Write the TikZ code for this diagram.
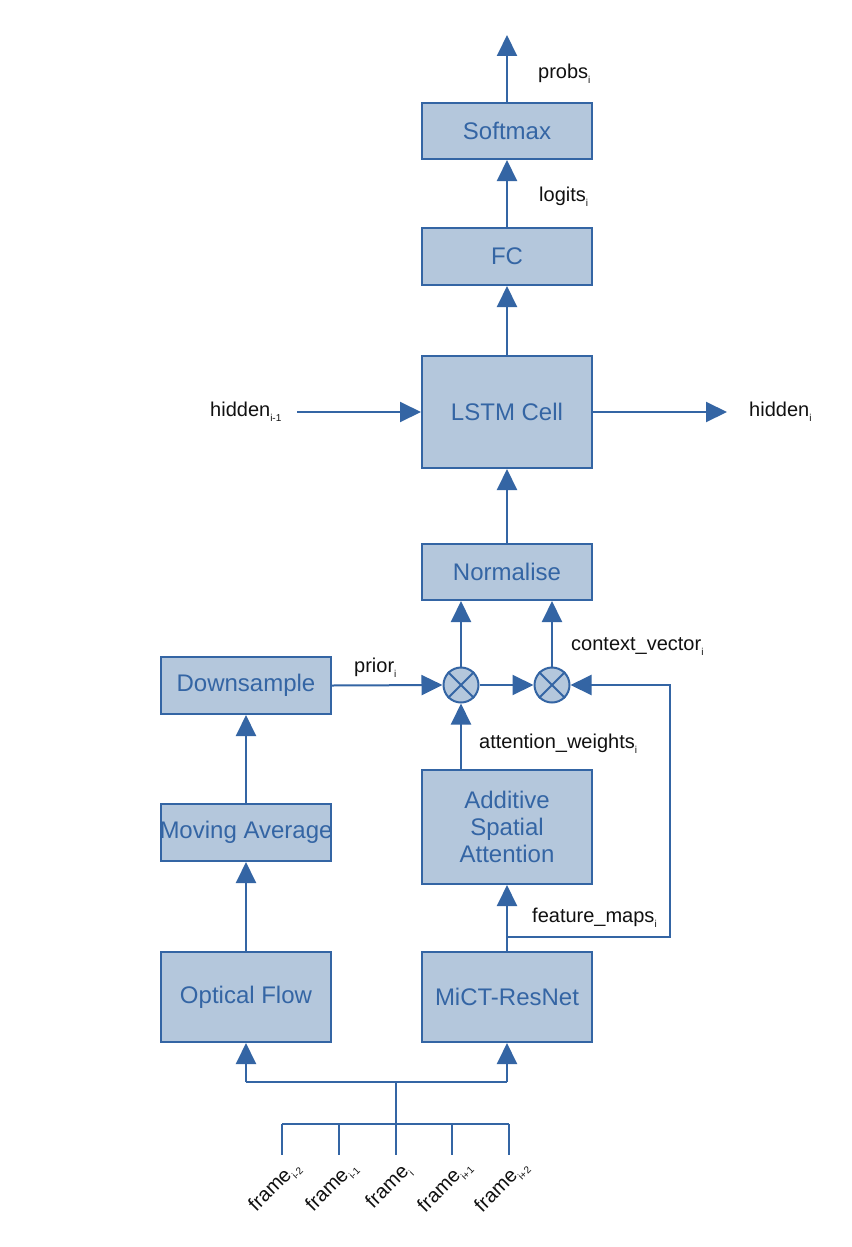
\documentclass[tikz,border=0pt]{standalone}
\usepackage{fontspec}
\setmainfont{Liberation Sans}
\usetikzlibrary{arrows.meta}
\definecolor{lineblue}{HTML}{3465A4}
\definecolor{fillblue}{HTML}{B4C7DC}
\definecolor{txt}{HTML}{111111}
\newcommand{\sbs}[1]{\raisebox{-5pt}{\fontsize{10}{10}\selectfont #1}}
\tikzset{
  blk/.style={draw=lineblue, fill=fillblue, line width=2pt, minimum width=170pt,
    inner sep=0pt, text=lineblue, font=\fontsize{24}{27}\selectfont, align=center},
  mul/.style={draw=lineblue, fill=fillblue, line width=2pt, circle, minimum size=35pt, inner sep=0pt},
  conn/.style={draw=lineblue, line width=2pt},
  arr/.style={conn, -{Triangle[length=21pt,width=20pt]}},
  lbl/.style={anchor=base west, inner sep=0pt, text=txt, font=\fontsize{20}{20}\selectfont},
  frm/.style={rotate=45, inner sep=0pt, text=txt, font=\fontsize{20}{20}\selectfont}
}
\begin{document}
\begin{tikzpicture}[x=1pt,y=-1pt]
\useasboundingbox[fill=white] (0,0) rectangle (851,1247);
% boxes
\node[blk, minimum height=56pt] (soft) at (507,131) {Softmax};
\node[blk, minimum height=57pt] (fc) at (507,256.5) {FC};
\node[blk, minimum height=112pt] (lstm) at (507,412) {LSTM Cell};
\node[blk, minimum height=56pt] (norm) at (507,572) {Normalise};
\node[blk, minimum height=57pt] (down) at (246,685.5) {Downsample};
\node[blk, minimum height=57pt, inner xsep=-1.6pt] (mavg) at (246,832.5) {Moving Average};
\node[blk, minimum height=90pt] (oflow) at (246,997) {Optical Flow};
\node[blk, minimum height=114pt] (asa) at (507,827) {Additive\\Spatial\\Attention};
\node[blk, minimum height=90pt] (mict) at (507,997) {MiCT-ResNet};
% multiply circles
\node[mul] (m1) at (461,685) {};
\node[mul] (m2) at (552,685) {};
\draw[conn] (m1.north west) -- (m1.south east) (m1.north east) -- (m1.south west);
\draw[conn] (m2.north west) -- (m2.south east) (m2.north east) -- (m2.south west);
% coordinates
\coordinate (top) at (507,35);
\coordinate (hin) at (297,412);
\coordinate (hout) at (727,412);
\coordinate (fmjoin) at (507,937);
\coordinate (fmcorner1) at (670,937);
\coordinate (fmcorner2) at (670,685);
\coordinate (bl) at (246,1082);
\coordinate (bm) at (396,1082);
\coordinate (br) at (507,1082);
\coordinate (tr) at (396,1124);
\coordinate (t1) at (282,1124);
\coordinate (t2) at (339,1124);
\coordinate (t4) at (452,1124);
\coordinate (t5) at (509,1124);
\coordinate (f1) at (282,1155);
\coordinate (f2) at (339,1155);
\coordinate (f3) at (396,1155);
\coordinate (f4) at (452,1155);
\coordinate (f5) at (509,1155);
% arrows
\draw[arr] (soft.north) -- (top);
\draw[arr] (fc.north) -- (soft.south);
\draw[arr] (lstm.north) -- (fc.south);
\draw[arr] (norm.north) -- (lstm.south);
\draw[arr] (hin) -- (lstm.west);
\draw[arr] (lstm.east) -- (hout);
\draw[arr] (m1.north) -- (m1.north |- norm.south);
\draw[arr] (m2.north) -- (m2.north |- norm.south);
\draw[arr] (down.east) -- (m1.west);
\draw[arr] (m1.east) -- (m2.west);
\draw[arr] (m1.south |- asa.north) -- (m1.south);
\draw[arr] (mict.north) -- (asa.south);
\draw[arr] (fmjoin) -- (fmcorner1) -- (fmcorner2) -- (m2.east);
\draw[arr] (mavg.north) -- (down.south);
\draw[arr] (oflow.north) -- (mavg.south);
\draw[arr] (bl) -- (oflow.south);
\draw[arr] (br) -- (mict.south);
\draw[conn] (bl) -- (br);
\draw[conn] (tr) -- (bm);
\draw[conn] (t1) -- (t5);
\draw[conn] (t1) -- (f1) (t2) -- (f2) (tr) -- (f3) (t4) -- (f4) (t5) -- (f5);
% labels
\node[lbl] (lprobs) at (538,78) {probs\sbs{i}};
\node[lbl] (llogits) at (539,201) {logits\sbs{i}};
\node[lbl] (lhin) at (210,416) {hidden\sbs{i-1}};
\node[lbl] (lhout) at (749,416) {hidden\sbs{i}};
\node[lbl] (lprior) at (354,672) {prior\sbs{i}};
\node[lbl] (lctx) at (571,650) {context\_vector\sbs{i}};
\node[lbl] (latt) at (479,748) {attention\_weights\sbs{i}};
\node[lbl] (lfm) at (532,922) {feature\_maps\sbs{i}};
% frame labels
\node[frm] (lf1) at (275,1187) {frame\sbs{i-2}};
\node[frm] (lf2) at (332,1187) {frame\sbs{i-1}};
\node[frm] (lf3) at (389,1187) {frame\sbs{i}};
\node[frm] (lf4) at (445,1187) {frame\sbs{i+1}};
\node[frm] (lf5) at (502,1187) {frame\sbs{i+2}};
\end{tikzpicture}
\end{document}
